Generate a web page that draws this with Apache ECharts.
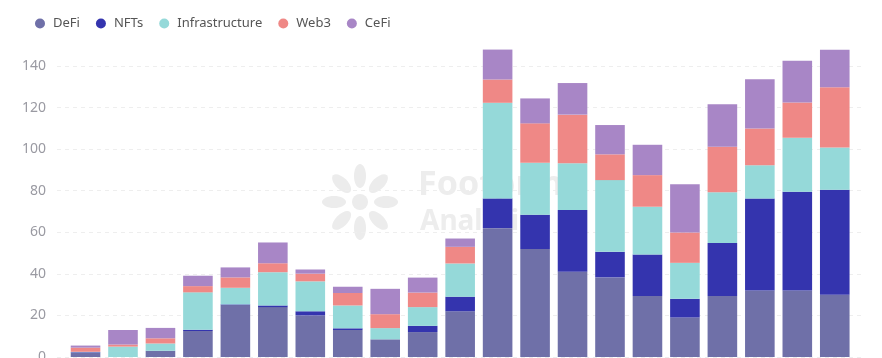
<!DOCTYPE html>
<html>
<head>
<meta charset="utf-8">
<script src="https://cdn.jsdelivr.net/npm/echarts@6/dist/echarts.min.js"></script>
<style>
html,body{margin:0;padding:0;background:#fff;}
#chart{width:882px;height:358px;}
</style>
</head>
<body>
<div id="chart"></div>
<script>
const categories = ['1','2','3','4','5','6','7','8','9','10','11','12','13','14','15','16','17','18','19','20','21'];
const seriesNames = ['DeFi','NFTs','Infrastructure','Web3','CeFi'];
const defi  = [2, 0, 3, 12.5, 25, 24, 20, 13, 8.5, 12, 22, 62, 52, 41, 38.3, 29.3, 19, 29.3, 32, 32, 30];
const nfts  = [0.3, 0, 0, 0.6, 0.3, 0.8, 2, 0.8, 0, 3, 7, 14.3, 16.4, 29.7, 12.3, 20, 9, 25.6, 44.3, 47.5, 50.5];
const infra = [0.2, 5, 3.5, 18, 8, 16, 14.4, 11, 5.4, 9, 16, 46, 25, 22.5, 34.5, 23, 17.3, 24.4, 16, 26, 20.3];
const web3  = [2, 1, 2.5, 3, 5, 4.3, 3.7, 6, 6.7, 7, 8, 11.2, 19, 23.4, 12.4, 15.2, 14.6, 21.8, 17.6, 17, 29];
const cefi  = [1, 7, 5, 5, 4.8, 10, 2, 3, 12.2, 7.2, 4, 14.4, 12, 15.2, 14.1, 14.6, 23.2, 20.5, 23.7, 20, 18];
const yTicks = [0, 20, 40, 60, 80, 100, 120, 140];
const colors = ['#6f70a8', '#3434ae', '#95d9d9', '#ef8886', '#a886c6'];

const values = [defi, nfts, infra, web3, cefi];
const chart = echarts.init(document.getElementById('chart'), null, {renderer: 'canvas'});

const logoEllipses = [];
for (let k = 0; k < 8; k++) {
  const ang = k * Math.PI / 4;
  logoEllipses.push({
    type: 'ellipse',
    x: 360 + Math.cos(ang) * 26,
    y: 202 + Math.sin(ang) * 26,
    rotation: -ang,
    shape: {cx: 0, cy: 0, rx: 12, ry: 6},
    style: {fill: '#ececec'},
    z: -10, silent: true
  });
}

chart.setOption({
  animation: false,
  color: colors,
  legend: {
    data: seriesNames,
    left: 30, top: 12,
    icon: 'circle',
    itemWidth: 16, itemHeight: 10,
    itemGap: 16,
    textStyle: {color: '#555', fontSize: 13, fontFamily: 'Noto Sans'}
  },
  graphic: [
    ...logoEllipses,
    {type: 'circle', shape: {cx: 360, cy: 202, r: 8}, style: {fill: '#ececec'}, z: -10, silent: true},
    {type: 'text', left: 418, top: 168, z: -10, silent: true,
     style: {text: 'Footprint', fill: '#ededed', font: 'bold 34px "Noto Sans"'}},
    {type: 'text', left: 420, top: 208, z: -10, silent: true,
     style: {text: 'Analytics', fill: '#ededed', font: 'bold 28px "Noto Sans"'}},
    {type: 'text', x: 46, y: 357, z: 5, silent: true,
     style: {text: String(yTicks[0]), fill: '#9a9aa2', font: '14px "Noto Sans"', textAlign: 'right', textVerticalAlign: 'middle'}}
  ],
  grid: [
    {left: 57, right: 19, top: 66, bottom: 1},
    {left: 66.8, right: 28.5, top: 66, bottom: 1}
  ],
  xAxis: [
    {type: 'category', gridIndex: 0, data: categories, show: false},
    {type: 'category', gridIndex: 1, data: categories, show: false}
  ],
  yAxis: [
    {type: 'value', gridIndex: 0, min: yTicks[0], max: yTicks[yTicks.length-1], interval: 20,
     axisLine: {show: false}, axisTick: {show: false},
     axisLabel: {color: '#9a9aa2', fontSize: 14, margin: 11, fontFamily: 'Noto Sans', showMinLabel: false},
     splitLine: {lineStyle: {color: '#eeeeee', type: [4, 4], width: 1}}},
    {type: 'value', gridIndex: 1, min: 0, max: 140, interval: 20, show: false, splitLine: {show: false}}
  ],
  series: seriesNames.map((name, i) => ({
    name: name,
    type: 'bar',
    stack: 'total',
    xAxisIndex: 1,
    yAxisIndex: 1,
    barCategoryGap: '21%',
    clip: false,
    data: values[i],
    itemStyle: {color: colors[i]}
  }))
});
</script>
</body>
</html>
